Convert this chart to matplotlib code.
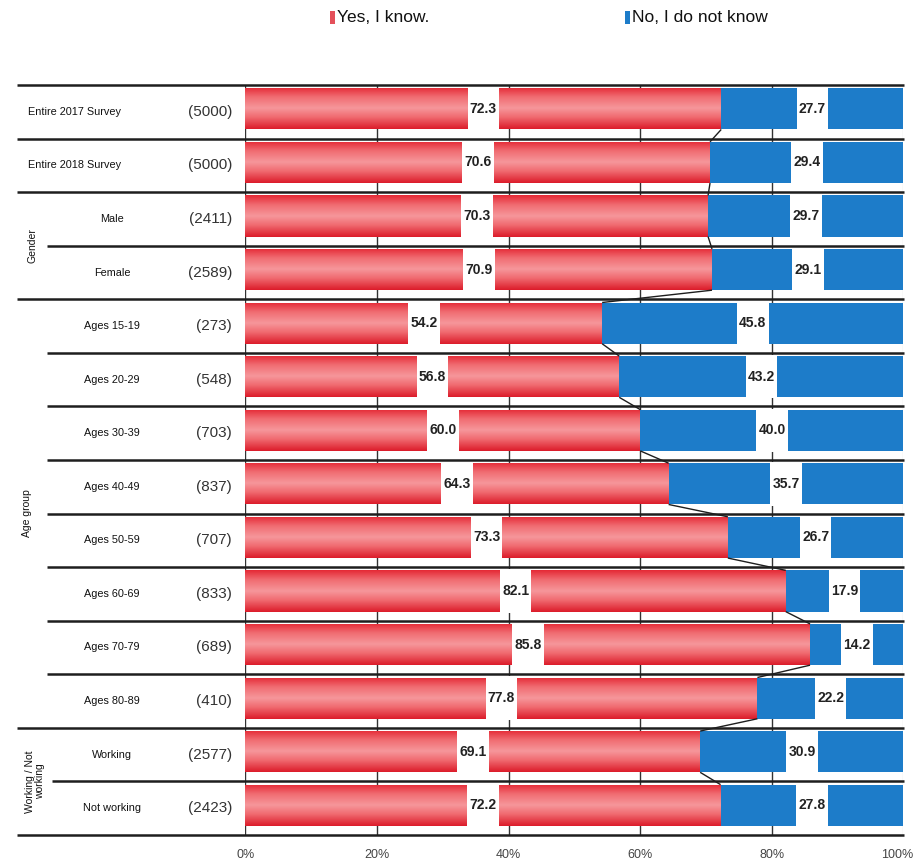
import numpy as np
import matplotlib
matplotlib.use("Agg")
import matplotlib.pyplot as plt
from matplotlib.transforms import blended_transform_factory
from matplotlib.colors import LinearSegmentedColormap
from matplotlib.patches import Rectangle

# ---- data ----
categories = ["Entire 2017 Survey", "Entire 2018 Survey", "Male", "Female",
              "Ages 15-19", "Ages 20-29", "Ages 30-39", "Ages 40-49",
              "Ages 50-59", "Ages 60-69", "Ages 70-79", "Ages 80-89",
              "Working", "Not working"]
sample_sizes = [5000, 5000, 2411, 2589, 273, 548, 703, 837, 707, 833, 689,
                410, 2577, 2423]
yes_know = [72.3, 70.6, 70.3, 70.9, 54.2, 56.8, 60.0, 64.3, 73.3, 82.1,
            85.8, 77.8, 69.1, 72.2]
no_know = [27.7, 29.4, 29.7, 29.1, 45.8, 43.2, 40.0, 35.7, 26.7, 17.9,
           14.2, 22.2, 30.9, 27.8]
group_names = ["Gender", "Age group", "Working / Not\nworking"]
group_rows = [(2, 4), (4, 12), (12, 14)]
x_ticks = [0, 20, 40, 60, 80, 100]
legend_labels = ["Yes, I know.", "No, I do not know"]

# ---- style ----
W, H = 916, 865
FONT = ["Liberation Sans", "DejaVu Sans"]
RED_EDGE = "#e3303a"
BLUE = "#1d7cc9"
LINE = "#1e1e1e"
red_cmap = LinearSegmentedColormap.from_list(
    "redbar", [(0.0, "#e52a36"), (0.22, "#f06a70"), (0.5, "#f6979b"),
               (0.72, "#f06a70"), (1.0, "#dc1d2b")])

fig = plt.figure(figsize=(W / 100, H / 100), dpi=100)
fig.patch.set_facecolor("white")
ax = fig.add_axes([245.5 / W, 30 / H, 658 / W, 750 / H])
ax.set_xlim(0, 100)
ax.set_ylim(14, 0)
ax.axis("off")

n = len(categories)
rows = np.arange(n)
bar_top, bar_bot = 0.06, 0.83
bar_h = bar_bot - bar_top
yc = rows + (bar_top + bar_bot) / 2
yes = np.array(yes_know)
no = np.array(no_know)

# vertical grid
ax.vlines(x_ticks[:-1], 0, n, color="#333333", lw=1.0, zorder=0)
ax.vlines(x_ticks[-1:], 0, n, color="#9a9a9a", lw=0.8, zorder=0)

# bars
red_bars = ax.barh(yc, yes, height=bar_h, left=0, color=RED_EDGE,
                   edgecolor="none", zorder=2)
grad = np.linspace(0, 1, 64).reshape(-1, 1)
for p in red_bars:
    x0, y0 = p.get_x(), p.get_y()
    w, h = p.get_width(), p.get_height()
    im = ax.imshow(grad, extent=[x0, x0 + w, y0 + h, y0], cmap=red_cmap,
                   aspect="auto", zorder=2.1, interpolation="bilinear")
    im.set_clip_path(p)
ax.barh(yc, no, height=bar_h, left=yes, color=BLUE, edgecolor="none",
        zorder=2)

# value labels in white gaps
gap_w = 4.8
yes_mid = yes / 2
no_mid = yes + no / 2
for mids, vals in ((yes_mid, yes), (no_mid, no)):
    ax.barh(yc, gap_w, height=bar_h + 0.04, left=mids - gap_w / 2,
            color="white", edgecolor="none", zorder=3)
    for m, y, v in zip(mids, yc, vals):
        ax.text(m, y, f"{v:.1f}", ha="center", va="center", fontsize=10,
                fontweight="bold", family=FONT, color="#222222", zorder=4)

# connectors between consecutive bars
for i in range(n - 1):
    ax.plot([yes[i], yes[i + 1]], [i + bar_bot, i + 1 + bar_top],
            color=LINE, lw=1.0, zorder=5, solid_capstyle="butt")

ax.set_xlim(0, 100)
ax.set_ylim(14, 0)

# horizontal separators
trans = blended_transform_factory(fig.transFigure, ax.transData)
inner_start = {}
for (a, b), start in zip(group_rows, [47, 47, 52]):
    for k in range(a + 1, b):
        inner_start[k] = start
for k in range(n + 1):
    xs = inner_start.get(k, 17) / W
    ax.plot([xs, 903.5 / W], [k, k], transform=trans, color=LINE, lw=1.8,
            clip_on=False, zorder=6, solid_capstyle="butt")

# category labels and sample sizes
for i, (cat, sz) in enumerate(zip(categories, sample_sizes)):
    y = i + 0.5
    if i < 2:
        ax.text(28 / W, y, cat, transform=trans, ha="left", va="center",
                fontsize=7.8, family=FONT, color="#111111")
    else:
        ax.text(112 / W, y, cat, transform=trans, ha="center", va="center",
                fontsize=7.8, family=FONT, color="#111111")
    ax.text(232 / W, y, f"({sz})", transform=trans, ha="right", va="center",
            fontsize=11, family=FONT, color="#333333")

# group labels
for name, (a, b), gx in zip(group_names, group_rows, [33, 27, 35]):
    ax.text(gx / W, (a + b) / 2, name, transform=trans, ha="center",
            va="center", rotation=90, fontsize=7.5, family=FONT,
            color="#111111", linespacing=1.0)

# x tick labels (the last one is right-aligned so it stays on the canvas)
for t in x_ticks:
    last = t == x_ticks[-1]
    ax.annotate(f"{t}%", (t, n + 0.38), xytext=(7 if last else 0, 0),
                textcoords="offset points", ha="right" if last else "center",
                va="center", fontsize=9, family=FONT, color="#444444",
                annotation_clip=False)

# legend
for lab, mx, col in zip(legend_labels, [330, 625], ["#e4505a", BLUE]):
    fig.patches.append(Rectangle((mx / W, 1 - 24 / H), 5 / W, 13 / H,
                                 transform=fig.transFigure, facecolor=col,
                                 edgecolor="none"))
    fig.text((mx + 7) / W, 1 - 17 / H, lab, ha="left", va="center",
             fontsize=12.5, family=FONT, color="#111111")

fig.savefig("out.png", dpi=100, facecolor="white")
